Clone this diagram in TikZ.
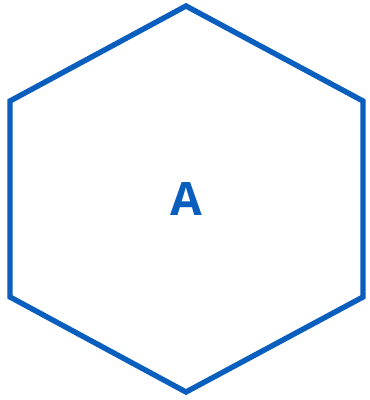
\documentclass[tikz,border=0pt]{standalone}
\usepackage{fontspec}
\setmainfont{Open Sans}
\definecolor{hexblue}{HTML}{0A5EBE}
\tikzset{
  hexline/.style={draw=hexblue, line width=5.4pt, line join=miter},
  hexlabel/.style={text=hexblue, font=\fontsize{46}{46}\selectfont\bfseries}
}
\begin{document}
\begin{tikzpicture}[x=1pt,y=-1pt]
    \useasboundingbox (0,0) rectangle (370,400);
    \coordinate (top) at (186,6);
    \coordinate (ur) at (363,101);
    \coordinate (lr) at (363,297);
    \coordinate (bot) at (186,392);
    \coordinate (ll) at (10,297);
    \coordinate (ul) at (10,101);
    \draw[hexline] (top) -- (ur) -- (lr) -- (bot) -- (ll) -- (ul) -- cycle;
    \node (A) [hexlabel] at (186,199) {A};
\end{tikzpicture}
\end{document}
